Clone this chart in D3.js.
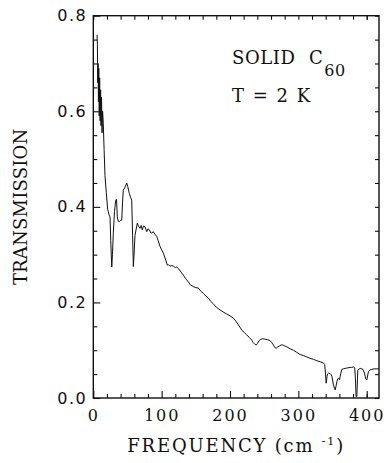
<!DOCTYPE html>
<html><head><meta charset="utf-8">
<script src="https://cdn.jsdelivr.net/npm/d3@7"></script>
<style>
html,body{margin:0;padding:0;background:#fff;}
svg{display:block;}
text{fill:#111;}
</style></head>
<body>
<svg id="chart" width="386" height="463"></svg>
<script>
// ---- data ----
const freq = [5.5,6,6.5,7,7.5,8,8.7,9.3,10,10.7,11.3,12,12.8,13.6,14.6,15.8,17.1,19,21,22,23,24.5,25.5,27,28,29.3,31,32.8,34,35.1,36.5,38.1,40,41.6,42.8,43.9,46,48.9,50.5,52.7,54.5,56.2,57.5,58.6,60,61,62.5,64.4,66,68.4,70,71.7,73.5,75.7,78.2,80,82,84,85.5,87.8,90,92.8,95,97.7,100,102.5,105,108.3,110,112,115,117.1,120,122,124.5,128,131.8,135,139.1,142,146.4,150,153.7,157,161,165,168.4,172,175,180,185.6,190,195,200,205,209,212.3,217.3,221,224.6,228,231.9,234,236.7,238.5,240.1,242.5,245.1,248,251.4,255,258.7,261,263.5,265.5,267.5,270,272.3,275,277.3,280,283.2,288,292.8,297,302.6,307,312.4,317,322.1,327,331.9,336.8,338.5,339.2,340.7,342,342.6,344,346.6,348,349.1,351.4,353.9,355.2,356.4,357.5,358.7,360.2,361.2,362.2,363.7,366,368.5,372,375.8,378,380.7,382.5,383.5,384.5,385.5,386.5,387.1,390.5,394.4,396.8,398.5,400.3,401.5,402.6,405,407.6,411,414.9,418];
const trans = [0.76,0.74,0.66,0.70,0.62,0.69,0.59,0.67,0.58,0.645,0.57,0.63,0.555,0.60,0.575,0.52,0.465,0.43,0.395,0.39,0.383,0.379,0.33,0.274,0.30,0.345,0.39,0.414,0.416,0.379,0.37,0.369,0.372,0.372,0.41,0.435,0.44,0.45,0.442,0.428,0.42,0.414,0.34,0.275,0.31,0.34,0.352,0.366,0.36,0.355,0.361,0.352,0.36,0.358,0.348,0.354,0.352,0.346,0.345,0.348,0.343,0.338,0.329,0.317,0.31,0.303,0.293,0.278,0.279,0.276,0.277,0.276,0.273,0.274,0.271,0.264,0.257,0.25,0.243,0.237,0.233,0.231,0.23,0.224,0.219,0.213,0.209,0.202,0.198,0.19,0.184,0.18,0.176,0.172,0.167,0.16,0.153,0.142,0.137,0.132,0.127,0.121,0.116,0.112,0.111,0.114,0.12,0.123,0.124,0.123,0.122,0.12,0.116,0.111,0.106,0.104,0.107,0.109,0.111,0.111,0.109,0.107,0.103,0.10,0.096,0.091,0.089,0.086,0.083,0.081,0.078,0.076,0.073,0.07,0.06,0.031,0.045,0.05,0.052,0.051,0.049,0.045,0.027,0.017,0.025,0.034,0.04,0.041,0.038,0.045,0.052,0.06,0.061,0.062,0.063,0.064,0.064,0.065,0.063,0.04,0.003,0.003,0.04,0.059,0.062,0.06,0.052,0.04,0.038,0.048,0.055,0.059,0.06,0.061,0.061,0.061];
const xMajorTicks = [0,100,200,300,400];
const xMinorTicks = [20,40,60,80,120,140,160,180,220,240,260,280,320,340,360,380,400];
const yMajorTicks = [0.0,0.2,0.4,0.6,0.8];
const yMinorTicks = [0.05,0.1,0.15,0.25,0.3,0.35,0.45,0.5,0.55,0.65,0.7,0.75];
const xDomain = [0, 418];
const yDomain = [0, 0.8];
const xTitle = "FREQUENCY (cm ";
const xTitleSup = "-1";
const yTitle = "TRANSMISSION";
const note1 = "SOLID C";
const note1Sub = "60";
const note2 = "T = 2 K";

// ---- layout ----
const L = 93.3, R = 379, T = 15.7, B = 398;
const svg = d3.select("#chart");
const x = d3.scaleLinear().domain(xDomain).range([L, R]);
const y = d3.scaleLinear().domain(yDomain).range([B, T]);
const serif = "'DejaVu Serif', serif";
const sans = "'DejaVu Sans', sans-serif";

function styleAxis(g){
  g.select(".domain").remove();
  g.selectAll(".tick line").attr("stroke","#111").attr("stroke-width",1.1);
}
// bottom
svg.append("g").attr("transform",`translate(0,${B})`)
  .call(d3.axisBottom(x).tickValues(xMinorTicks).tickSizeInner(-4).tickSizeOuter(0).tickFormat(""))
  .call(styleAxis);
const bx = svg.append("g").attr("transform",`translate(0,${B})`)
  .call(d3.axisBottom(x).tickValues(xMajorTicks).tickSizeInner(-7).tickSizeOuter(0).tickPadding(12).tickFormat(d3.format("d")))
  .call(styleAxis);
bx.selectAll("text").attr("font-family",serif).attr("font-size",16).attr("letter-spacing","2px").attr("fill","#111");
// top
svg.append("g").attr("transform",`translate(0,${T})`)
  .call(d3.axisTop(x).tickValues(xMinorTicks.concat(xMajorTicks)).tickSizeInner(-4).tickSizeOuter(0).tickFormat(""))
  .call(styleAxis);
// left
svg.append("g").attr("transform",`translate(${L},0)`)
  .call(d3.axisLeft(y).tickValues(yMinorTicks).tickSizeInner(-4).tickSizeOuter(0).tickFormat(""))
  .call(styleAxis);
const ly = svg.append("g").attr("transform",`translate(${L},0)`)
  .call(d3.axisLeft(y).tickValues(yMajorTicks).tickSizeInner(-7).tickSizeOuter(0).tickPadding(6).tickFormat(d3.format(".1f")))
  .call(styleAxis);
ly.selectAll("text").attr("font-family",sans).attr("font-size",16).attr("letter-spacing","1.5px").attr("fill","#111");
// right
svg.append("g").attr("transform",`translate(${R},0)`)
  .call(d3.axisRight(y).tickValues(yMinorTicks.concat(yMajorTicks)).tickSizeInner(-4).tickSizeOuter(0).tickFormat(""))
  .call(styleAxis);

// frame
svg.append("rect").attr("x",L).attr("y",T).attr("width",R-L).attr("height",B-T)
  .attr("fill","none").attr("stroke","#111").attr("stroke-width",1.4);

// curve
const pts = freq.map((f,i)=>[f,trans[i]]);
svg.append("path").datum(pts)
  .attr("d", d3.line().x(d=>x(d[0])).y(d=>y(d[1])))
  .attr("fill","none").attr("stroke","#111").attr("stroke-width",1.0).attr("stroke-linejoin","round");

// titles
const xt = svg.append("text").attr("x",(L+R)/2).attr("y",452).attr("text-anchor","middle")
  .attr("font-family",serif).attr("font-size",18).attr("letter-spacing","1.8px");
xt.append("tspan").text(xTitle);
xt.append("tspan").attr("font-size",11).attr("dy",-7).text(xTitleSup);
xt.append("tspan").attr("dy",7).text(")");

svg.append("text").attr("transform",`translate(27,${(T+B)/2}) rotate(-90)`).attr("text-anchor","middle")
  .attr("font-family",serif).attr("font-size",18).attr("letter-spacing","0.2px").text(yTitle);

const n1 = svg.append("text").attr("x",232).attr("y",64).attr("font-family",serif).attr("font-size",18)
  .attr("letter-spacing","0.6px").attr("word-spacing","7px");
n1.append("tspan").text(note1);
n1.append("tspan").attr("font-size",16).attr("dy",12).attr("dx",1).text(note1Sub);
svg.append("text").attr("x",232).attr("y",102).attr("font-family",serif).attr("font-size",18)
  .attr("word-spacing","3px").text(note2);
</script>
</body></html>
